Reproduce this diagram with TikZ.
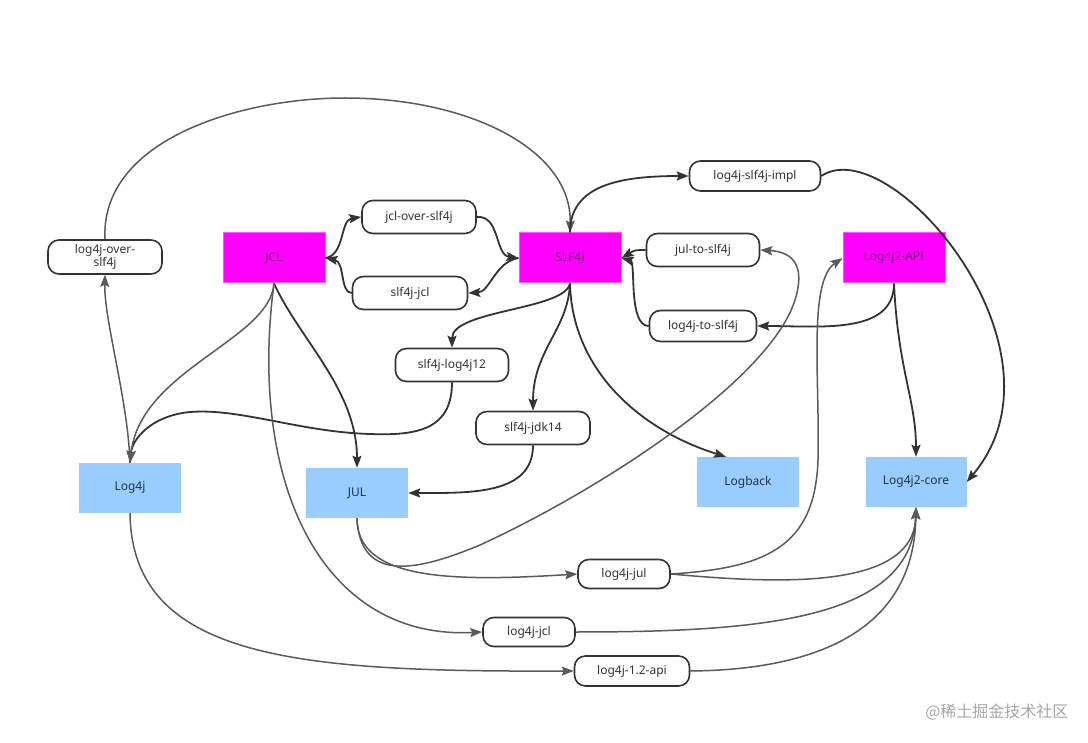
\documentclass[tikz,border=0pt]{standalone}
\usepackage{fontspec}
\setmainfont{Noto Sans}
\newfontfamily\cjk{Noto Sans CJK SC}
\usetikzlibrary{arrows.meta}
\definecolor{mag}{HTML}{FF00FF}
\definecolor{magb}{HTML}{FF55FF}
\definecolor{magt}{HTML}{7A1A7A}
\definecolor{bluef}{HTML}{99CCFF}
\definecolor{bluet}{HTML}{1F3550}
\definecolor{dk}{HTML}{333333}
\definecolor{gr}{HTML}{5A5A5A}
\tikzset{
  every node/.style={font=\fontsize{12}{14}\selectfont},
  pill/.style={draw=dk, line width=1.6pt, rounded corners=11pt, fill=white, text=dk, inner sep=0pt, minimum height=#1},
  pill/.default=33pt,
  magbox/.style={fill=mag, draw=magb, line width=1pt, minimum width=102pt, minimum height=50pt, text=magt, inner sep=0pt},
  bluebox/.style={fill=bluef, minimum width=102pt, minimum height=50pt, text=bluet, inner sep=0pt},
  dkarrow/.style={draw=dk, line width=1.8pt, -{Stealth[length=12pt,width=9pt,inset=2pt]}},
  grarrow/.style={draw=gr, line width=1.5pt, -{Stealth[length=12pt,width=9pt,inset=2pt]}},
}
\begin{document}
\begin{tikzpicture}[x=1pt,y=-1pt]
\useasboundingbox (0,0) rectangle (1088,743);
% nodes
\node[pill=34pt, minimum width=114pt, align=center, font=\fontsize{12}{12}\selectfont] (lo4s) at (105,257) {log4j-over-\\slf4j};
\node[magbox] (jcl) at (274,258) {JCL};
\node[pill, minimum width=114pt] (jov) at (419,217) {jcl-over-slf4j};
\node[pill, minimum width=115pt] (sjcl) at (410,293) {slf4j-jcl};
\node[magbox] (slf) at (570,258) {SLF4J};
\node[pill=30pt, minimum width=131pt] (impl) at (755,176) {log4j-slf4j-impl};
\node[pill, minimum width=113pt] (j2s) at (703,250) {jul-to-slf4j};
\node[pill=31pt, minimum width=107pt] (l2s) at (703,326) {log4j-to-slf4j};
\node[magbox] (api) at (894,258) {Log4j2-API};
\node[pill, minimum width=113pt] (slog) at (452,365) {slf4j-log4j12};
\node[pill, minimum width=114pt] (jdk) at (533,428) {slf4j-jdk14};
\node[bluebox] (log4j) at (130,488) {Log4j};
\node[bluebox] (jul) at (357,493) {JUL};
\node[bluebox] (logback) at (748,482) {Logback};
\node[bluebox, minimum width=101pt] (core) at (916,482) {Log4j2-core};
\node[pill=29pt, minimum width=92pt] (ljul) at (624,574) {log4j-jul};
\node[pill=29pt, minimum width=92pt] (ljcl) at (529,632) {log4j-jcl};
\node[pill=30pt, minimum width=115pt] (lapi) at (632,671) {log4j-1.2-api};
\node[text=gray!70, font=\cjk\fontsize{16}{16}\selectfont, anchor=east] (wm) at (1072,712) {@稀土掘金技术社区};
% connectors
\draw[grarrow] (lo4s.north) .. controls (100,140) and (240,98) .. (345,98) .. controls (470,98) and (572,150) .. (slf.north);
\draw[grarrow] (log4j.north) .. controls (128,400) and (104,320) .. (lo4s.south);
\draw[dkarrow] (jcl.east) .. controls (345,255) and (340,220) .. (jov.west);
\draw[dkarrow] (sjcl.west) .. controls (340,293) and (345,262) .. (jcl.east);
\draw[dkarrow] (jov.east) .. controls (500,215) and (495,255) .. (slf.west);
\draw[dkarrow] (slf.west) .. controls (495,262) and (490,292) .. (sjcl.east);
\draw[dkarrow] (slf.north) .. controls (570,185) and (620,176) .. (impl.west);
\draw[dkarrow] (impl.east) .. controls (890,130) and (1078,350) .. (core.east);
\draw[dkarrow] (j2s.west) .. controls (635,250) .. (slf.east);
\draw[dkarrow] (l2s.west) .. controls (628,326) and (636,262) .. (slf.east);
\draw[dkarrow] (api.south) .. controls (894,335) and (820,326) .. (l2s.east);
\draw[dkarrow] (api.south) .. controls (898,370) and (916,400) .. (core.north);
\draw[dkarrow] (slf.south) .. controls (565,310) and (452,310) .. (slog.north);
\draw[dkarrow] (slf.south) .. controls (568,330) and (533,350) .. (jdk.north);
\draw[dkarrow] (slf.south) .. controls (572,370) and (640,430) .. ([xshift=-22pt]logback.north);
\draw[dkarrow] (slog.south) .. controls (452,428) and (420,436) .. (370,434) .. controls (300,432) and (240,408) .. (190,412) .. controls (150,416) and (132,440) .. (log4j.north);
\draw[dkarrow] (jdk.south) .. controls (533,495) and (470,493) .. (jul.east);
\draw[dkarrow] (jcl.south) .. controls (300,340) and (357,390) .. (jul.north);
\draw[grarrow] (jcl.south) .. controls (270,340) and (140,370) .. (log4j.north);
\draw[grarrow] (jcl.south) .. controls (248,480) and (320,640) .. (ljcl.west);
\draw[grarrow] (jul.south) .. controls (357,580) and (450,582) .. (ljul.west);
\draw[grarrow] (jul.south) .. controls (360,585) and (420,570) .. (480,545) .. controls (600,490) and (770,380) .. (795,300) .. controls (805,268) and (795,252) .. (j2s.east);
\draw[grarrow] (ljul.east) .. controls (765,568) and (815,548) .. (818,460) .. controls (820,380) and (808,282) .. (api.west);
\draw[grarrow] (ljul.east) .. controls (780,584) and (914,590) .. (core.south);
\draw[grarrow] (ljcl.east) .. controls (760,632) and (912,620) .. (core.south);
\draw[grarrow] (lapi.east) .. controls (800,670) and (914,640) .. (core.south);
\draw[grarrow] (log4j.south) .. controls (132,660) and (300,672) .. (lapi.west);
\end{tikzpicture}
\end{document}
